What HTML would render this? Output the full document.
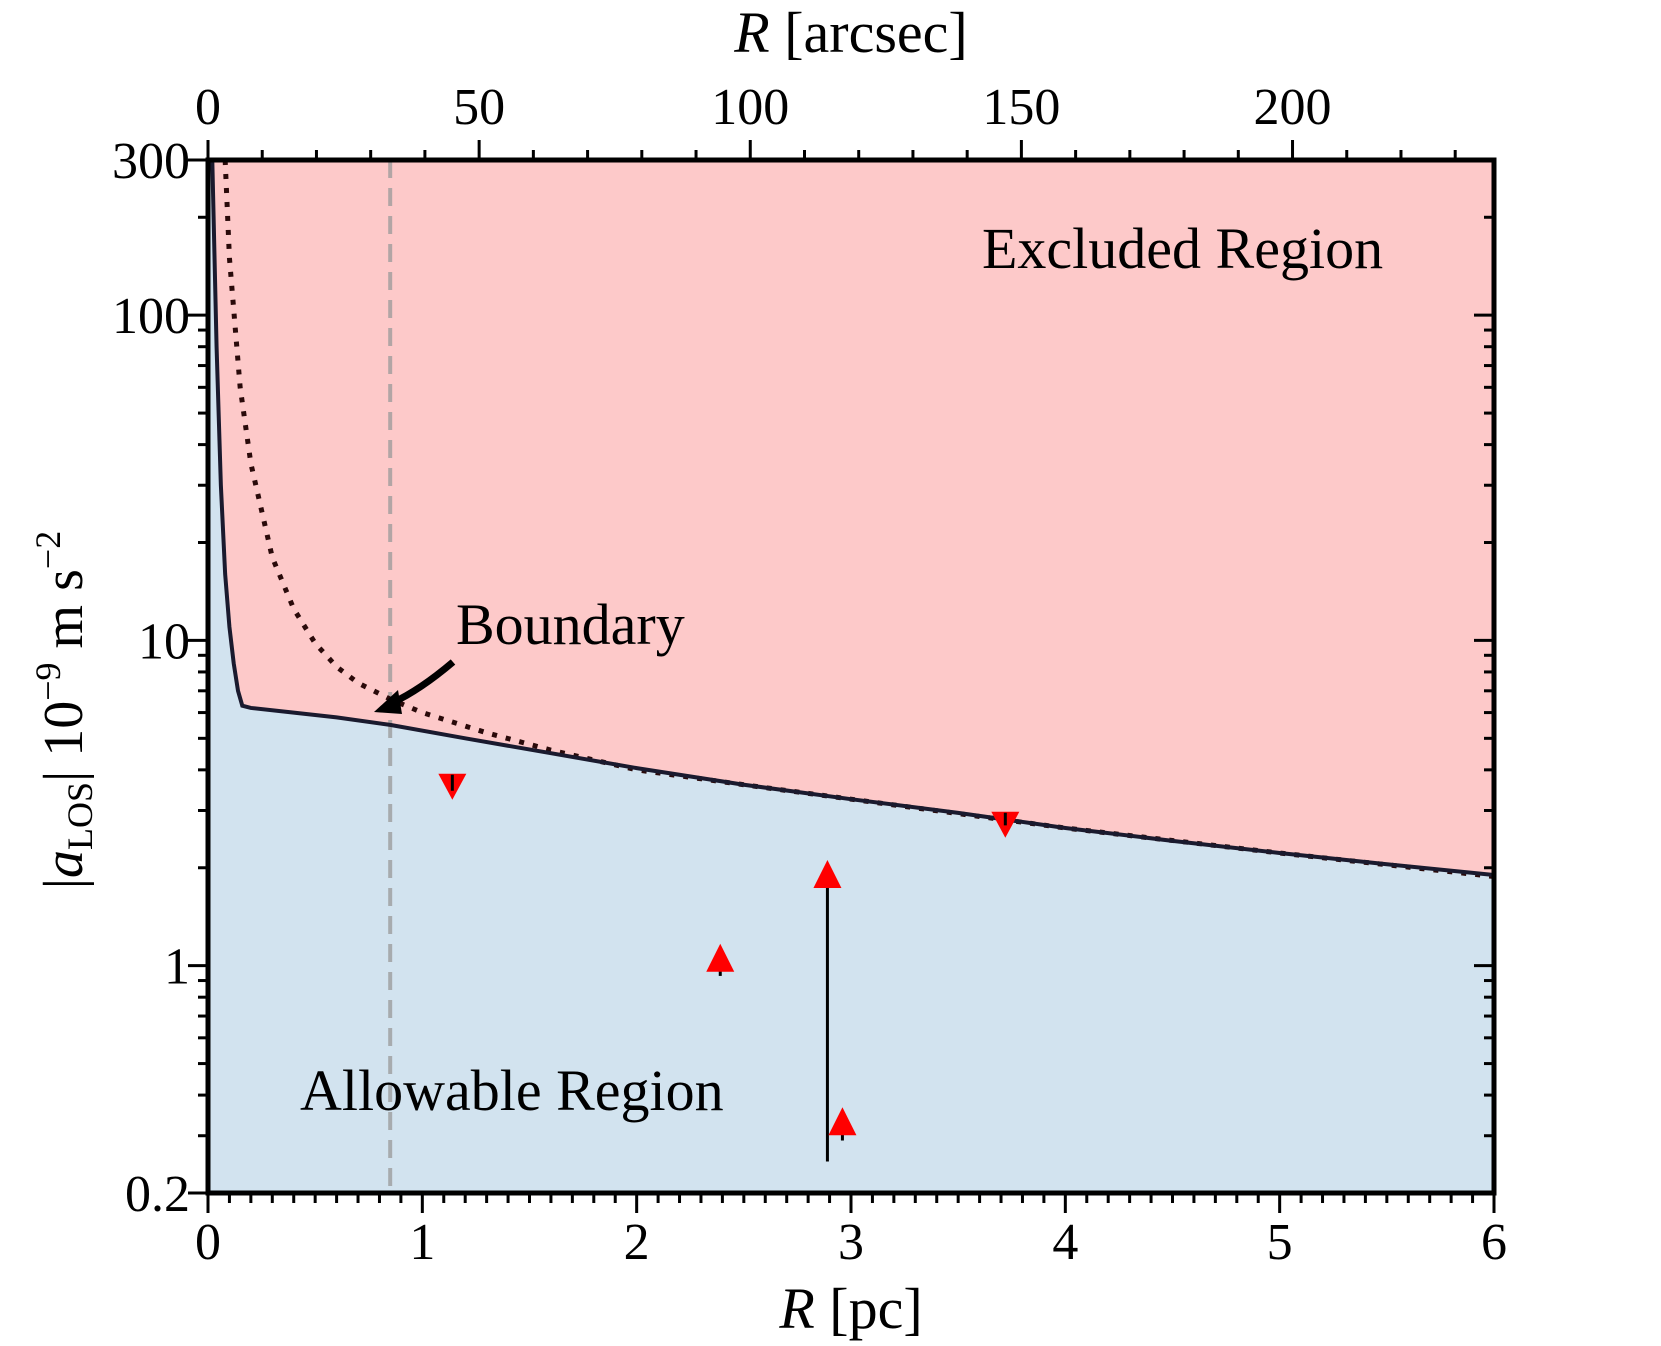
<!DOCTYPE html>
<html><head><meta charset="utf-8"><style>
html,body{margin:0;padding:0;background:#fff;}
svg text{font-family:"Liberation Serif",serif;fill:#000;}
</style></head><body>
<svg id="chart" width="1661" height="1341" viewBox="0 0 1661 1341" xmlns="http://www.w3.org/2000/svg">
<defs><clipPath id="pc"><rect x="208" y="160" width="1286" height="1033"/></clipPath></defs>
<g id="plot" clip-path="url(#pc)"></g>
<g id="axes"></g>
</svg>
<script>
const boundR=[0.02,0.04,0.06,0.08,0.1,0.12,0.14,0.16,0.2,0.4,0.6,0.85,1.2,1.6,2.0,2.5,3.0,3.5,4.0,4.5,5.0,5.5,6.0];
const boundA=[300,80,30,16,11,8.5,7.0,6.3,6.2,6.0,5.8,5.5,5.0,4.5,4.05,3.6,3.25,2.95,2.65,2.42,2.22,2.05,1.9];
const dotR=[0.08,0.1,0.15,0.2,0.3,0.4,0.5,0.6,0.7,0.85,1.0,1.3,1.6,2.0,2.5,3.0,4.0,5.0,6.0];
const dotA=[300,150,60,35,18,12.5,9.8,8.3,7.4,6.6,6.0,5.2,4.6,4.0,3.6,3.25,2.65,2.22,1.88];
const downR=[1.14,3.72];
const downA=[3.6,2.75];
const downLo=[3.45,2.7];
const upR=[2.39,2.89,2.96];
const upA=[1.05,1.9,0.33];
const upLo=[0.93,0.25,0.29];
const yMajor=[0.2,1,10,100,300];
const yMajorLabels=["0.2","1","10","100","300"];
const xTicks=[0,1,2,3,4,5,6];
const arcTicks=[0,50,100,150,200];
const PC_PER_ARCSEC=0.0253;
const L=208,R=1494,T=160,B=1193;
const xs=v=>L+(v/6)*(R-L);
const ys=v=>B-(Math.log10(v)-Math.log10(0.2))/(Math.log10(300)-Math.log10(0.2))*(B-T);
const NS="http://www.w3.org/2000/svg";
function el(tag,attrs,parent,txt){const e=document.createElementNS(NS,tag);for(const k in attrs)e.setAttribute(k,attrs[k]);if(txt!==undefined)e.textContent=txt;parent.appendChild(e);return e;}
const plot=document.getElementById('plot'),axes=document.getElementById('axes');
let bp=boundR.map((r,i)=>xs(r)+','+ys(boundA[i])).join(' L');
let pink=el('rect',{x:L,y:T,width:R-L,height:B-T,fill:'#fdc9c9'},plot);


let blue=el('path',{d:'M'+L+','+T+' L'+bp+' L'+R+','+B+' L'+L+','+B+' Z',fill:'#d2e3ef'},plot);


let vl=el('line',{x1:xs(0.85),x2:xs(0.85),y1:T,y2:B,stroke:'#999',opacity:0.75,'stroke-width':4,'stroke-dasharray':'18,10'},plot);


let dl=el('path',{d:'M'+dotR.map((r,i)=>xs(r)+','+ys(dotA[i])).join(' L'),fill:'none',stroke:'#2a0a0a','stroke-width':5,'stroke-dasharray':'5,9'},plot);


let bl=el('path',{d:'M'+bp,fill:'none',stroke:'#1a1a2e','stroke-width':4},plot);


downR.forEach((r,i)=>{const x=xs(r),y=ys(downA[i]);
 let p=el('path',{d:`M${x-14},${y-11} L${x+14},${y-11} L${x},${y+15} Z`,fill:'#f00'},plot);
 
 
 el('line',{x1:x,x2:x,y1:y-10,y2:ys(downLo[i]),stroke:'#000','stroke-width':3},plot);});
upR.forEach((r,i)=>{const x=xs(r),y=ys(upA[i]);
 el('line',{x1:x,x2:x,y1:y,y2:ys(upLo[i]),stroke:'#000','stroke-width':3},plot);
 let p=el('path',{d:`M${x-14},${y+13} L${x+14},${y+13} L${x},${y-15} Z`,fill:'#f00'},plot);
 
 });
el('rect',{x:L,y:T,width:R-L,height:B-T,fill:'none',stroke:'#000','stroke-width':5},axes);
for(let v=0;v<=6.001;v+=0.1){const x=xs(v);const maj=Math.abs(v-Math.round(v))<1e-6;
 el('line',{x1:x,x2:x,y1:B,y2:B+(maj?20:10),stroke:'#000','stroke-width':3},axes);}
xTicks.forEach(v=>{let t=el('text',{x:xs(v),y:1259,'font-size':52,'text-anchor':'middle'},axes,String(v));
 
 });
for(let a=0;a*PC_PER_ARCSEC<=6;a+=10){const x=xs(a*PC_PER_ARCSEC);const maj=a%50==0;
 el('line',{x1:x,x2:x,y1:T,y2:T-(maj?20:10),stroke:'#000','stroke-width':3},axes);}
arcTicks.forEach(a=>{let t=el('text',{x:xs(a*PC_PER_ARCSEC),y:124,'font-size':52,'text-anchor':'middle'},axes,String(a));
 
 });
for(let d=-1;d<=2;d++)for(let m=1;m<=9;m++){const v=m*Math.pow(10,d);if(v<0.2-1e-9||v>300+1e-9)continue;
 const y=ys(v);const maj=(m==1);
 el('line',{x1:L,x2:L-(maj?20:10),y1:y,y2:y,stroke:'#000','stroke-width':3},axes);
 el('line',{x1:R,x2:R-(maj?20:10),y1:y,y2:y,stroke:'#000','stroke-width':3},axes);}
el('line',{x1:L,x2:L-20,y1:ys(300),y2:ys(300),stroke:'#000','stroke-width':3},axes);
el('line',{x1:L,x2:L-20,y1:ys(0.2),y2:ys(0.2),stroke:'#000','stroke-width':3},axes);
yMajor.forEach((v,i)=>{let t=el('text',{x:190,y:ys(v)+18,'font-size':52,'text-anchor':'end'},axes,yMajorLabels[i]);
 
 });
</script>
<svg style="position:absolute;left:0;top:0" width="1661" height="1341" xmlns="http://www.w3.org/2000/svg">
<text x="982" y="268" font-size="58">Excluded Region</text>
<text x="456" y="644" font-size="58">Boundary</text>
<text x="300" y="1110" font-size="58">Allowable Region</text>
<path d="M453,662 Q420,690 392,703" fill="none" stroke="#000" stroke-width="7"/>
<path d="M374,712 L398,690 L402,714 Z" fill="#000"/>
<text x="851" y="1328" font-size="58" text-anchor="middle"><tspan font-style="italic">R</tspan> [pc]</text>
<text x="851" y="52" font-size="58" text-anchor="middle"><tspan font-style="italic">R</tspan> [arcsec]</text>
<text transform="translate(82,710) rotate(-90)" font-size="56" text-anchor="middle">|<tspan font-style="italic">a</tspan><tspan font-size="36" dy="10">LOS</tspan><tspan dy="-10">|  10</tspan><tspan font-size="36" dy="-22">−9</tspan><tspan dy="22"> m s</tspan><tspan font-size="36" dy="-22">−2</tspan></text>
</svg>
</body></html>
